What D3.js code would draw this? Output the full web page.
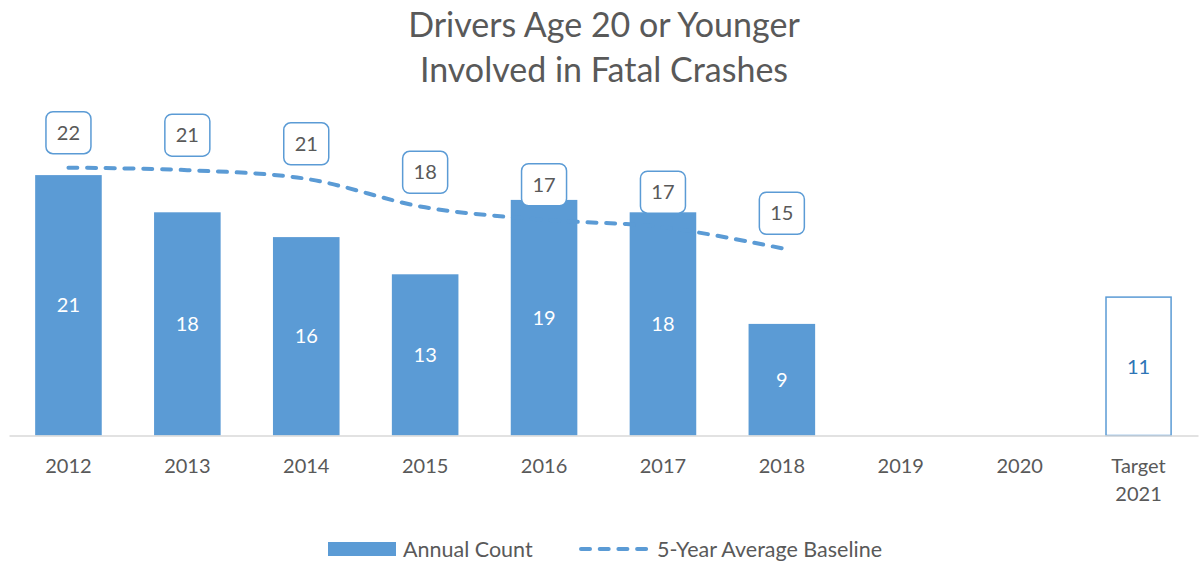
<!DOCTYPE html>
<html>
<head>
<meta charset="utf-8">
<script src="https://cdn.jsdelivr.net/npm/d3@7"></script>
<style>
  body { margin: 0; background: #fff; }
  text { font-family: Lato, "Open Sans", sans-serif; }
</style>
</head>
<body>
<div id="chart"></div>
<script>
// data ------------------------------
var categories = ['2012', '2013', '2014', '2015', '2016', '2017', '2018', '2019', '2020', 'Target 2021'];
var annualCount = [21, 18, 16, 13, 19, 18, 9, null, null, null];
var targetValue = [null, null, null, null, null, null, null, null, null, 11];
var baseline = [21.6, 21.4, 20.7, 18.4, 17.4, 16.8, 15.1, null, null, null];
var titleLines = ['Drivers Age 20 or Younger', 'Involved in Fatal Crashes'];
var legendNames = ['Annual Count', '5-Year Average Baseline'];
// ------------------------------------

var width = 1201, height = 564;
var blue = '#5B9BD5', grey = '#595959';
var plot = {left: 9, right: 1198, top: 125.5, bottom: 435.5};

var svg = d3.select('#chart').append('svg')
    .attr('width', width)
    .attr('height', height);

var xScale = d3.scaleBand().domain(categories)
    .range([plot.left, plot.right])
    .paddingInner(0.44).paddingOuter(0.22);
var yScale = d3.scaleLinear().domain([0, 25]).range([plot.bottom, plot.top]);

// title
svg.append('g').selectAll('text')
    .data(titleLines)
    .enter().append('text')
    .attr('x', 604)
    .attr('y', function(d, i) { return 37 + i * 45; })
    .attr('text-anchor', 'middle')
    .style('font-size', '34px')
    .style('fill', grey)
    .text(function(d) { return d; });

// bars
var barData = categories.map(function(c, i) { return {cat: c, v: annualCount[i]}; })
    .filter(function(d) { return d.v != null; });

svg.append('g').selectAll('rect')
    .data(barData)
    .enter().append('rect')
    .attr('x', function(d) { return xScale(d.cat); })
    .attr('y', function(d) { return yScale(d.v); })
    .attr('width', xScale.bandwidth())
    .attr('height', function(d) { return yScale(0) - yScale(d.v); })
    .style('fill', blue);

svg.append('g').selectAll('text')
    .data(barData)
    .enter().append('text')
    .attr('x', function(d) { return xScale(d.cat) + xScale.bandwidth() / 2; })
    .attr('y', function(d) { return (yScale(d.v) + yScale(0)) / 2; })
    .attr('dy', '0.35em')
    .attr('text-anchor', 'middle')
    .style('font-size', '20px')
    .style('fill', '#fff')
    .text(function(d) { return d.v; });

// target bar (outlined)
var targetData = categories.map(function(c, i) { return {cat: c, v: targetValue[i]}; })
    .filter(function(d) { return d.v != null; });

svg.append('g').selectAll('rect')
    .data(targetData)
    .enter().append('rect')
    .attr('x', function(d) { return xScale(d.cat) + 0.75; })
    .attr('y', function(d) { return yScale(d.v) - 2; })
    .attr('width', xScale.bandwidth() - 1.5)
    .attr('height', function(d) { return yScale(0) - yScale(d.v) + 2; })
    .style('fill', '#fff')
    .style('stroke', blue)
    .style('stroke-width', 1.5);

svg.append('g').selectAll('text')
    .data(targetData)
    .enter().append('text')
    .attr('x', function(d) { return xScale(d.cat) + xScale.bandwidth() / 2; })
    .attr('y', function(d) { return (yScale(d.v) + yScale(0)) / 2; })
    .attr('dy', '0.35em')
    .attr('text-anchor', 'middle')
    .style('font-size', '20px')
    .style('fill', '#2E75B6')
    .text(function(d) { return d.v; });

// x axis
var xAxis = d3.axisBottom(xScale).tickSize(0).tickPadding(0);
var axisG = svg.append('g')
    .attr('transform', 'translate(0,' + plot.bottom + ')')
    .call(xAxis);
axisG.select('.domain').attr('stroke', '#D9D9D9').attr('stroke-width', 1.5);
axisG.selectAll('.tick text').remove();
axisG.selectAll('.tick').each(function(d) {
    var t = d3.select(this).append('text')
        .attr('text-anchor', 'middle')
        .style('font-size', '20px')
        .style('fill', grey)
        .style('font-family', 'Lato, sans-serif');
    d.split(' ').forEach(function(w, i) {
        t.append('tspan').attr('x', 0).attr('y', 37 + i * 28).text(w);
    });
});

// 5-year baseline
var lineData = categories.map(function(c, i) { return {cat: c, v: baseline[i]}; })
    .filter(function(d) { return d.v != null; });
var cx = function(d) { return xScale(d.cat) + xScale.bandwidth() / 2; };

var line = d3.line()
    .x(cx)
    .y(function(d) { return yScale(d.v); })
    .curve(d3.curveCatmullRom.alpha(0.5));

svg.append('path')
    .datum(lineData)
    .attr('d', line)
    .style('fill', 'none')
    .style('stroke', blue)
    .style('stroke-width', 4)
    .style('stroke-linecap', 'round')
    .style('stroke-dasharray', '9,9.7');

var labelG = svg.append('g').selectAll('g')
    .data(lineData)
    .enter().append('g')
    .attr('transform', function(d) { return 'translate(' + cx(d) + ',' + (yScale(d.v) - 35) + ')'; });

labelG.append('rect')
    .attr('x', -22.5).attr('y', -21)
    .attr('width', 45).attr('height', 42)
    .attr('rx', 7)
    .style('fill', '#fff')
    .style('stroke', blue)
    .style('stroke-width', 1.5);

labelG.append('text')
    .attr('text-anchor', 'middle')
    .attr('dy', '0.35em')
    .style('font-size', '20px')
    .style('fill', grey)
    .text(function(d) { return d3.format('.0f')(d.v); });

// legend
var legend = svg.append('g').attr('transform', 'translate(0,549)');
legend.append('rect')
    .attr('x', 328).attr('y', -7)
    .attr('width', 68).attr('height', 14)
    .style('fill', blue);
legend.append('text')
    .attr('x', 403).attr('dy', '0.35em')
    .style('font-size', '21.5px').style('fill', grey)
    .text(legendNames[0]);
legend.append('line')
    .attr('x1', 581).attr('x2', 648)
    .style('stroke', blue)
    .style('stroke-width', 4)
    .style('stroke-linecap', 'round')
    .style('stroke-dasharray', '9,9.7');
legend.append('text')
    .attr('x', 657).attr('dy', '0.35em')
    .style('font-size', '21.5px').style('fill', grey)
    .text(legendNames[1]);
</script>
</body>
</html>
